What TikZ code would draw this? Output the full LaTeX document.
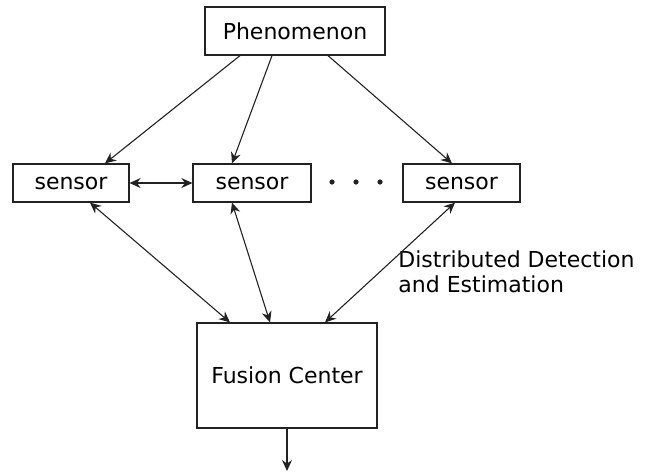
\documentclass[tikz,border=0pt]{standalone}
\usepackage{fontspec}
\setmainfont{DejaVu Sans}
\usetikzlibrary{arrows.meta,positioning}
\definecolor{LineDark}{HTML}{222222}

\begin{document}
\begin{tikzpicture}[
      x=0.5pt, y=-0.5pt,
      box/.style={
        draw=LineDark,
        line width=0.6pt,
        fill=white,
        inner sep=0pt,
        font=\fontsize{11}{13}\selectfont,
        align=center
      },
      flow/.style={-{Stealth[length=5.5pt,width=5pt]}, draw=LineDark, line width=0.55pt},
      both/.style={{Stealth[length=5.5pt,width=5pt]}-{Stealth[length=5.5pt,width=5pt]}, draw=LineDark, line width=0.55pt}
    ]
      \useasboundingbox (0,0) rectangle (656,473);
      \node[box, minimum width=90pt, minimum height=24pt] (phen) at (295,31) {Phenomenon};
      \node[box, minimum width=58pt, minimum height=19pt] (sensA) at (71,183) {sensor};
      \node[box, minimum width=59pt, minimum height=19pt] (sensB) at (252,183) {sensor};
      \node[box, minimum width=58.5pt, minimum height=19pt] (sensC) at (461.5,183) {sensor};
      \node[box, minimum width=90pt, minimum height=52.5pt] (fusion) at (287,375.5) {Fusion Center};
      \node[font=\fontsize{11}{12.5}\selectfont, align=left, anchor=west, inner sep=0pt] (label) at (398,272)
        {Distributed Detection\\and Estimation};
      \coordinate (out) at (287,471);
      % dots between the sensors
      \foreach \x in {332,356,380}
        \fill[LineDark] (\x,182) circle (1.3pt);
      % phenomenon to sensors
      \draw[flow] ([xshift=-27.5pt]phen.south) -- ([xshift=17pt]sensA.north);
      \draw[flow] ([xshift=-11.5pt]phen.south) -- ([xshift=-10pt]sensB.north);
      \draw[flow] ([xshift=16.5pt]phen.south) -- ([xshift=-4.75pt]sensC.north);
      \draw[both] (sensA) -- (sensB);
      % sensors and fusion center
      \draw[both] ([xshift=9.5pt]sensA.south) -- ([xshift=-28.5pt]fusion.north);
      \draw[both] ([xshift=-10pt]sensB.south) -- ([xshift=-8.5pt]fusion.north);
      \draw[both] ([xshift=-3.25pt]sensC.south) -- ([xshift=19pt]fusion.north);
      \draw[flow] (fusion) -- (out);
    \end{tikzpicture}
\end{document}
